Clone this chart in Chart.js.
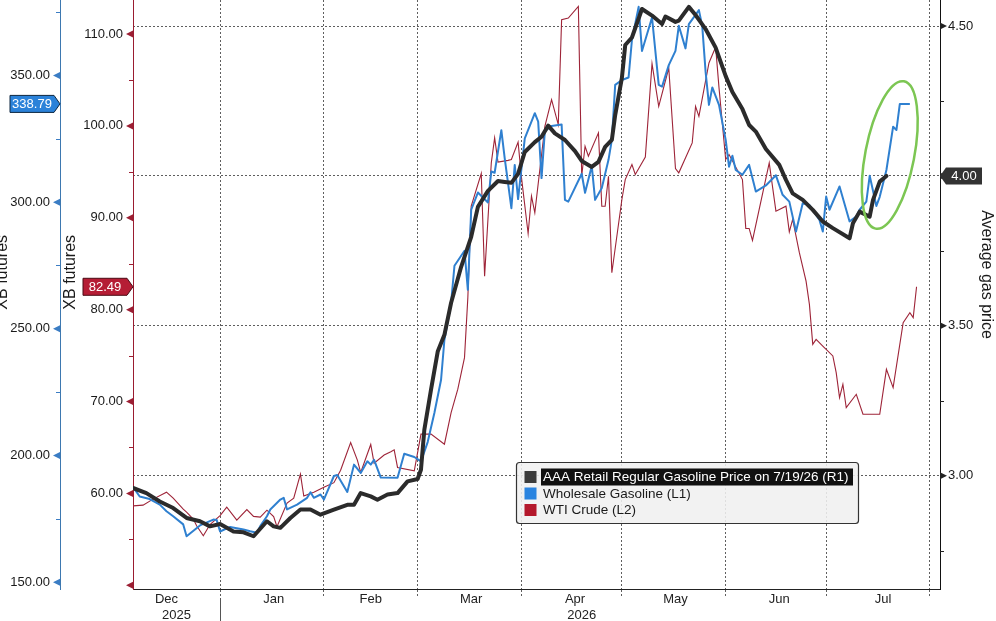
<!DOCTYPE html>
<html><head><meta charset="utf-8">
<script src="https://cdn.jsdelivr.net/npm/chart.js@4.4.1/dist/chart.umd.min.js"></script>
<style>html,body{margin:0;padding:0;background:#fff;overflow:hidden}#wrap{position:relative;width:996px;height:621px}</style>
</head><body><div id="wrap"><canvas id="c"></canvas></div>
<script>
// ---------- DATA ----------
const gasDates = ['12/6','12/10','12/14','12/18','12/22','12/26','12/29','1/1','1/5','1/8','1/11','1/15','1/17','1/19','1/22','1/25','1/28','1/31','2/4','2/8','2/10','2/12','2/15','2/17','2/20','2/23','2/26','3/1','3/2','3/3','3/5','3/7','3/9','3/11','3/14','3/17','3/19','3/22','3/25','3/27','3/29','3/31','4/2','4/5','4/7','4/9','4/11','4/14','4/17','4/19','4/22','4/24','4/26','4/28','4/29','5/1','5/2','5/4','5/7','5/10','5/13','5/14','5/17','5/18','5/21','5/23','5/26','5/29','6/1','6/3','6/6','6/8','6/10','6/13','6/17','6/19','6/21','6/24','6/27','6/30','7/3','7/8','7/9','7/11','7/14','7/15','7/17','7/19'];
const gasValues = [2.959,2.942,2.914,2.892,2.859,2.848,2.831,2.839,2.814,2.811,2.798,2.848,2.831,2.826,2.859,2.887,2.887,2.870,2.887,2.903,2.903,2.942,2.931,2.920,2.937,2.942,2.981,2.989,3.020,3.153,3.287,3.414,3.470,3.577,3.697,3.797,3.897,3.950,3.983,3.980,3.977,4.007,4.080,4.113,4.131,4.168,4.142,4.120,4.083,4.050,4.030,4.047,4.097,4.120,4.203,4.327,4.437,4.462,4.557,4.535,4.507,4.532,4.514,4.518,4.564,4.537,4.490,4.428,4.333,4.280,4.223,4.170,4.148,4.090,4.037,3.987,3.942,3.920,3.887,3.848,3.826,3.792,3.842,3.881,3.864,3.920,3.981,4.00];

const xbDates = ['12/6','12/8','12/11','12/14','12/16','12/18','12/21','12/22','12/26','12/30','12/31','1/1','1/4','1/8','1/10','1/12','1/13','1/15','1/16','1/19','1/20','1/21','1/24','1/27','1/28','1/29','1/31','2/1','2/4','2/5','2/8','2/10','2/12','2/14','2/15','2/16','2/18','2/23','2/25','2/28','3/2','3/4','3/6','3/8','3/9','3/11','3/12','3/15','3/16','3/17','3/19','3/22','3/23','3/24','3/26','3/27','3/29','3/30','3/31','4/2','4/5','4/6','4/7','4/8','4/10','4/13','4/14','4/15','4/19','4/20','4/22','4/23','4/25','4/27','4/28','4/29','5/1','5/3','5/4','5/6','5/7','5/10','5/12','5/13','5/15','5/17','5/18','5/20','5/21','5/24','5/25','5/26','5/27','5/28','5/30','6/1','6/2','6/3','6/4','6/6','6/8','6/10','6/13','6/16','6/18','6/20','6/21','6/22','6/24','6/26','6/29','6/30','7/1','7/2','7/5','7/8','7/10','7/11','7/13','7/14','7/16','7/17','7/19','7/21','7/22','7/23','7/26'];
const xbValues = [187.6,183.8,182.8,180.6,178.0,176.0,172.8,168.1,172.4,174.7,
174.5,170.0,171.8,170.8,170.1,169.5,172.1,176.0,178.7,182.6,
183.3,178.7,180.6,183.3,185.5,183.3,184.6,182.6,191.9,192.3,
185.6,196.4,193.1,197.7,196.4,198.3,191.3,191.2,200.7,199.4,
197.7,205.3,216.8,229.9,245.7,260.3,274.9,280.8,265.4,297.0,
303.8,299.9,312.1,311.6,328.4,317.4,297.6,314.7,301.2,325.2,
335.1,331.8,309.5,328.1,330.1,330.7,300.9,300.2,311.2,303.7,
314.3,300.9,305.6,316.7,324.6,346.3,348.2,349.2,364.0,377.1,
359.7,372.9,346.3,345.6,354.1,359.7,369.6,360.7,370.3,375.8,
369.5,351.4,338.4,345.3,338.4,324.6,314.0,318.3,312.7,310.8,
314.7,304.2,306.6,310.6,302.9,300.2,294.3,288.4,299.6,298.9,
293.0,288.4,302.2,297.0,306.2,292.4,294.3,297.0,300.2,310.4,
298.5,302.1,312.7,329.8,328.5,338.79,338.79];

const wtiDates = ['12/6','12/9','12/12','12/16','12/18','12/21','12/22','12/24','12/25','12/27','12/29','1/1','1/3','1/6','1/9','1/11','1/13','1/15','1/17','1/18','1/21','1/23','1/25','1/26','1/29','2/1','2/4','2/6','2/9','2/11','2/12','2/15','2/16','2/19','2/21','2/22','2/23','2/28','3/2','3/5','3/9','3/11','3/13','3/15','3/16','3/17','3/20','3/21','3/23','3/24','3/25','3/28','3/29','3/31','4/1','4/3','4/4','4/5','4/8','4/10','4/12','4/13','4/15','4/18','4/19','4/20','4/21','4/24','4/25','4/26','4/27','4/28','5/1','5/2','5/4','5/5','5/8','5/10','5/12','5/15','5/17','5/18','5/22','5/23','5/24','5/27','5/29','5/30','6/1','6/2','6/6','6/7','6/8','6/9','6/14','6/16','6/19','6/20','6/21','6/23','6/25','6/26','6/27','6/28','6/30','7/3','7/4','7/5','7/6','7/7','7/10','7/12','7/17','7/19','7/21','7/24','7/26','7/27','7/28'];
const wtiValues = [58.65,58.73,59.38,60.14,59.49,58.29,57.97,57.21,56.48,55.39,
56.61,57.59,58.51,57.10,58.24,57.50,57.42,58.18,57.48,56.39,
58.95,59.49,62.10,59.71,60.14,60.68,61.17,62.53,65.54,63.62,
62.28,65.33,63.29,64.18,64.54,64.74,62.83,62.46,66.45,66.45,
65.36,68.80,71.34,74.78,81.34,91.26,94.82,83.65,95.98,98.70,
96.07,96.25,96.34,98.24,94.43,88.29,92.35,90.54,99.96,102.86,
100.14,111.55,111.74,113.00,94.52,97.78,96.70,99.24,91.26,91.26,
94.52,84.02,91.99,94.16,95.79,94.71,96.61,106.77,102.13,106.30,
95.36,94.89,98.15,102.13,101.04,106.85,108.57,104.16,96.34,96.88,
94.16,88.84,88.84,87.53,95.98,90.72,91.26,88.46,89.82,86.20,
83.11,80.58,76.23,76.77,76.04,74.96,73.15,70.43,71.88,69.35,
70.79,68.62,68.62,73.51,71.52,78.59,79.67,79.13,82.49];

const seriesLabels = ['AAA Retail Regular Gasoline Price on 7/19/26 (R1)','Wholesale Gasoline (L1)','WTI Crude (L2)'];

// axes: ranges and ticks
const xRange = ['12/6','8/4'];
const monthStarts = ['1/1','2/1','3/1','4/1','5/1','6/1','7/1','8/1'];
const monthLabels = ['Dec','Jan','Feb','Mar','Apr','May','Jun','Jul'];
const monthLabelDates = ['12/16','1/17','2/15','3/17','4/17','5/17','6/17','7/18'];
const yearLabels = ['2025','2026'];
const yearLabelDates = ['12/19','4/19'];
const xbRange = [147.3, 379.8];
const xbTicks = [150,200,250,300,350];
const xbMinor = [175,225,275,325,375];
const wtiRange = [49.6, 113.7];
const wtiTicks = [50,60,70,80,90,100,110];
const wtiMinor = [55,65,75,85,95,105];
const gasRange = [2.622, 4.587];
const gasTicks = [3.0,3.5,4.0,4.5];
const gasMinor = [2.75,3.25,3.75,4.25];
const calloutAt = {date:'7/20', gas:4.07};

// ---------- HELPERS ----------
function dayOf(s){const [m,d]=s.split('/').map(Number);const y=m===12?2025:2026;return (Date.UTC(y,m-1,d)-Date.UTC(2026,0,1))/864e5;}
const pts=(ds,vs)=>ds.map((d,i)=>({x:dayOf(d),y:vs[i]}));
const FONT="'Liberation Sans', Arial, sans-serif";
Chart.defaults.font.family=FONT; Chart.defaults.font.size=13; Chart.defaults.color='#1a1a1a';

const xTickInfo=new Map();
monthStarts.forEach(d=>xTickInfo.set(dayOf(d),{k:'g',l:''}));
monthLabelDates.forEach((d,i)=>xTickInfo.set(dayOf(d),{k:'m',l:monthLabels[i]}));
yearLabelDates.forEach((d,i)=>xTickInfo.set(dayOf(d),{k:'y',l:['',yearLabels[i]]}));
const xTickVals=[...xTickInfo.keys()].sort((a,b)=>a-b);
const GRID='#5e5e5e', CLEAR='rgba(0,0,0,0)';
const isG=c=>c.tick&&xTickInfo.get(c.tick.value)&&xTickInfo.get(c.tick.value).k==='g';

const colors={gas:'#2b2b2b',xb:'#2f80d0',wti:'#9e2438'};
const swatches=['#3c3c3c','#2a84e0','#b4182c'];

const deco={
 id:'deco',
 afterDraw(chart){
  const {ctx,chartArea:ca,scales:s}=chart;
  ctx.save();
  // year separator below Jan 1
  const xj=Math.round(s.x.getPixelForValue(dayOf('1/1')))+0.5;
  ctx.strokeStyle='#555';ctx.lineWidth=1;ctx.setLineDash([]);
  ctx.beginPath();ctx.moveTo(xj,ca.bottom+9);ctx.lineTo(xj,chart.height);ctx.stroke();
  // axis markers
  const mark=(sc,majors,minors,color,side)=>{
    const ex=side<0?sc.right:sc.left;
    ctx.fillStyle=color;ctx.strokeStyle=color;ctx.lineWidth=1;
    majors.forEach(v=>{const y=sc.getPixelForValue(v);ctx.beginPath();ctx.moveTo(ex,y-3.5);ctx.lineTo(ex,y+3.5);ctx.lineTo(ex+side*7,y);ctx.closePath();ctx.fill();});
    minors.forEach(v=>{if(v<sc.min||v>sc.max)return;const y=Math.round(sc.getPixelForValue(v))+0.5;ctx.beginPath();ctx.moveTo(ex,y);ctx.lineTo(ex+side*4,y);ctx.stroke();});
  };
  mark(s.yB,xbTicks,xbMinor,'#3b7dc4',-1);
  mark(s.yR,wtiTicks,wtiMinor,'#9c1f33',-1);
  mark(s.yG,gasTicks,gasMinor,'#222',1);
  // last value tags
  const tag=(tipX,y,bodyW,dir,fill,stroke,text)=>{
    const h=17,t=y-h/2,tw=6;
    ctx.beginPath();
    let cx;
    if(dir>0){
      const l=tipX-tw-bodyW;
      ctx.moveTo(l,t);ctx.lineTo(tipX-tw,t);ctx.lineTo(tipX,y);ctx.lineTo(tipX-tw,t+h);ctx.lineTo(l,t+h);ctx.closePath();
      cx=l+bodyW/2;
    } else {
      const r=tipX+tw+bodyW;
      ctx.moveTo(r,t);ctx.lineTo(tipX+tw,t);ctx.lineTo(tipX,y);ctx.lineTo(tipX+tw,t+h);ctx.lineTo(r,t+h);ctx.closePath();
      cx=tipX+tw+bodyW/2;
    }
    ctx.fillStyle=fill;ctx.fill();
    if(stroke){ctx.strokeStyle=stroke;ctx.lineWidth=1;ctx.stroke();}
    ctx.fillStyle='#fff';ctx.font='13px '+FONT;ctx.textAlign='center';ctx.textBaseline='middle';
    ctx.fillText(text,cx,y+0.5);
  };
  const lastXb=xbValues[xbValues.length-1], lastWti=wtiValues[wtiValues.length-1], lastGas=gasValues[gasValues.length-1];
  tag(s.yB.right,s.yB.getPixelForValue(lastXb),44,1,'#2b82d9','#0d2740',lastXb.toFixed(2));
  tag(s.yR.right,s.yR.getPixelForValue(lastWti),44,1,'#b51d35','#4a0a14',lastWti.toFixed(2));
  tag(s.yG.left,s.yG.getPixelForValue(lastGas),36,-1,'#333',null,lastGas.toFixed(2));
  // green callout ellipse
  ctx.strokeStyle='#7cc653';ctx.lineWidth=2.5;
  ctx.beginPath();
  ctx.ellipse(s.x.getPixelForValue(dayOf(calloutAt.date)),s.yG.getPixelForValue(calloutAt.gas),24.5,75,0.19,0,Math.PI*2);
  ctx.stroke();
  // legend
  const w=ca.right-ca.left,h=ca.bottom-ca.top;
  const lx=Math.round(ca.left+w*0.475)+0.5, ly=Math.round(ca.top+h*0.7845)+0.5, lw=342, lh=61;
  ctx.fillStyle='rgba(240,240,240,0.88)';ctx.strokeStyle='#333';ctx.lineWidth=1.2;
  ctx.beginPath();
  if(ctx.roundRect)ctx.roundRect(lx,ly,lw,lh,3);else ctx.rect(lx,ly,lw,lh);
  ctx.fill();ctx.stroke();
  ctx.font='13.5px '+FONT;ctx.textAlign='left';ctx.textBaseline='middle';
  chart.data.datasets.forEach((ds,i)=>{
    const cy=ly+14.5+i*16.5;
    ctx.fillStyle=swatches[i];ctx.fillRect(lx+8,cy-6,12,12);
    if(i===0){ctx.fillStyle='#111';ctx.fillRect(lx+24.5,cy-8.5,312,17);ctx.fillStyle='#fff';}
    else ctx.fillStyle='#1a1a1a';
    ctx.fillText(ds.label,lx+26.5,cy+0.5);
  });
  ctx.restore();
 }
};

new Chart(document.getElementById('c'),{
 type:'line',
 data:{datasets:[
  {label:seriesLabels[0],data:pts(gasDates,gasValues),yAxisID:'yG',borderColor:colors.gas,borderWidth:4,order:1,pointRadius:0,borderJoinStyle:'round',borderCapStyle:'round',tension:0},
  {label:seriesLabels[1],data:pts(xbDates,xbValues),yAxisID:'yB',borderColor:colors.xb,borderWidth:2,order:2,pointRadius:0,borderJoinStyle:'round',tension:0},
  {label:seriesLabels[2],data:pts(wtiDates,wtiValues),yAxisID:'yR',borderColor:colors.wti,borderWidth:1.1,order:3,pointRadius:0,tension:0}
 ]},
 options:{
  responsive:true,maintainAspectRatio:false,devicePixelRatio:1,animation:false,
  layout:{padding:0},
  plugins:{legend:{display:false},tooltip:{enabled:false}},
  events:[],
  scales:{
   x:{type:'linear',position:'bottom',min:dayOf(xRange[0]),max:dayOf(xRange[1]),
     afterBuildTicks:sc=>{sc.ticks=xTickVals.map(v=>({value:v}));},
     afterFit:sc=>{sc.height=32;sc.paddingLeft=0;sc.paddingRight=0;},
     ticks:{autoSkip:false,maxRotation:0,minRotation:0,padding:-5,color:'#222',font:{size:13},
       callback:v=>{const t=xTickInfo.get(v);return t?t.l:'';}},
     grid:{drawOnChartArea:true,color:c=>isG(c)?GRID:CLEAR,tickColor:c=>isG(c)?GRID:CLEAR,tickLength:8,tickBorderDash:[2,2],lineWidth:1},
     border:{display:true,color:'#222',width:1,dash:[2,2]}
   },
   yB:{type:'linear',position:'left',weight:2,min:xbRange[0],max:xbRange[1],
     afterBuildTicks:sc=>{sc.ticks=xbTicks.map(v=>({value:v}));},
     afterFit:sc=>{sc.width=60;sc.paddingTop=0;sc.paddingBottom=0;},
     ticks:{padding:3,color:'#1a1a1a',font:{size:13},callback:v=>v.toFixed(2)},
     grid:{drawOnChartArea:false,tickLength:7,tickColor:CLEAR},
     border:{display:true,color:'#3d78b0',width:1},
     title:{display:true,text:'          XB futures',color:'#1a1a1a',font:{size:16},padding:{top:-7,bottom:0}}
   },
   yR:{type:'linear',position:'left',weight:1,min:wtiRange[0],max:wtiRange[1],
     afterBuildTicks:sc=>{sc.ticks=wtiTicks.map(v=>({value:v}));},
     afterFit:sc=>{sc.width=73;sc.paddingTop=0;sc.paddingBottom=0;},
     ticks:{padding:3,color:'#1a1a1a',font:{size:13},callback:v=>v===wtiTicks[0]?'':v.toFixed(2)},
     grid:{drawOnChartArea:false,tickLength:7,tickColor:CLEAR},
     border:{display:true,color:'#9a1c30',width:1},
     title:{display:true,text:'          XB futures',color:'#1a1a1a',font:{size:16},padding:{top:1,bottom:0}}
   },
   yG:{type:'linear',position:'right',min:gasRange[0],max:gasRange[1],
     afterBuildTicks:sc=>{sc.ticks=gasTicks.map(v=>({value:v}));},
     afterFit:sc=>{sc.width=56;sc.paddingTop=0;sc.paddingBottom=0;},
     ticks:{padding:3,color:'#1a1a1a',font:{size:13},callback:v=>v.toFixed(2)},
     grid:{drawOnChartArea:true,color:GRID,lineWidth:1,tickLength:5,tickColor:CLEAR},
     border:{display:true,color:'#111',width:1,dash:[2,2]},
     title:{display:true,text:'Average gas price         ',color:'#1a1a1a',font:{size:16},padding:{top:0,bottom:0}}
   }
  }
 },
 plugins:[deco]
});
</script></body></html>
